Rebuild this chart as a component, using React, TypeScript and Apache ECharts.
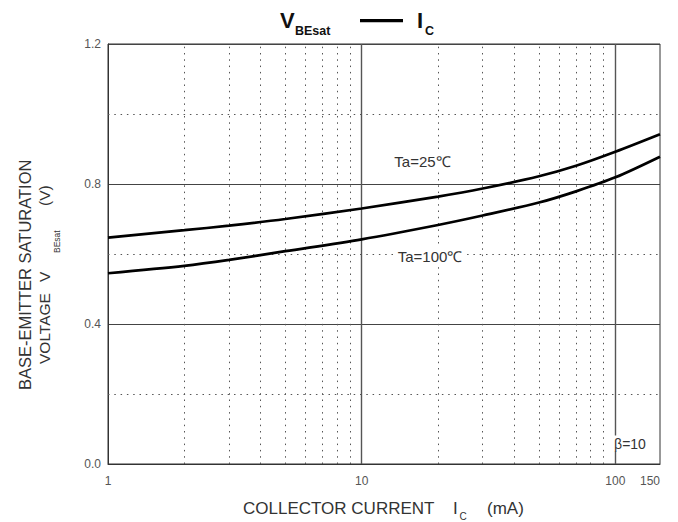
import React, { useEffect, useRef } from "react";
import * as echarts from "echarts";

const currents = [1, 2, 3, 5, 10, 20, 30, 50, 70, 100, 150];
const vbe25 = [0.647, 0.668, 0.681, 0.700, 0.730, 0.764, 0.787, 0.822, 0.852, 0.892, 0.942];
const vbe100 = [0.545, 0.566, 0.583, 0.608, 0.642, 0.683, 0.710, 0.747, 0.779, 0.819, 0.878];
const minorX = [2, 3, 4, 5, 6, 7, 8, 9, 20, 30, 40, 50, 60, 70, 80, 90];
const majorX = [10, 100];
const minorY = [0.2, 0.6, 1.0];
const yTicks = [0, 0.4, 0.8, 1.2];
const curveNames = ["Ta=25℃", "Ta=100℃"];
const betaNote = "β=10";

const FONT = "'Liberation Sans', Arial, sans-serif";

export default function App() {
  const ref = useRef<HTMLDivElement>(null);
  useEffect(() => {
    if (!ref.current) return;
    const chart = echarts.init(ref.current, null, { renderer: "svg" });
    const dotted = { color: "#555", width: 1, type: [1.5, 4.8] as any };
    const txt = (text: string, x: number, y: number, fontSize: number, extra: any = {}) => ({
      type: "text",
      x,
      y,
      z: 100,
      ...extra,
      style: {
        text,
        fontSize,
        fill: "#333",
        fontFamily: FONT,
        align: "left",
        verticalAlign: "middle",
        ...(extra.style || {}),
      },
    });
    chart.setOption({
      animation: false,
      backgroundColor: "#fff",
      textStyle: { fontFamily: FONT },
      grid: {
        left: 108,
        right: 18,
        top: 44,
        bottom: 58,
        show: true,
        borderColor: "#333",
        borderWidth: 1,
      },
      xAxis: {
        type: "log",
        logBase: 10,
        min: 1,
        max: 150,
        axisLine: { show: true, lineStyle: { color: "#333", width: 1 } },
        axisTick: { show: false },
        axisLabel: { color: "#555", fontSize: 12, fontFamily: FONT, margin: 11, alignMaxLabel: "right" },
        splitLine: { show: false },
      },
      yAxis: {
        type: "value",
        min: 0,
        max: 1.2,
        interval: 0.4,
        axisLine: { show: true, lineStyle: { color: "#333", width: 1 } },
        axisTick: { show: false },
        axisLabel: {
          color: "#555",
          fontSize: 12,
          fontFamily: FONT,
          margin: 7,
          formatter: (v: number) => (yTicks.some((t) => Math.abs(t - v) < 1e-6) ? v.toFixed(1) : ""),
        },
        splitLine: { show: true, lineStyle: { color: "#444", width: 1 } },
      },
      series: [
        {
          type: "line",
          data: currents.map((c, i) => [c, vbe25[i]]),
          smooth: 0.3,
          showSymbol: false,
          silent: true,
          lineStyle: { color: "#000", width: 2.7 },
          z: 5,
          markLine: {
            silent: true,
            symbol: "none",
            label: { show: false },
            animation: false,
            z: 1,
            data: [
              ...minorX.map((v) => ({ xAxis: v, lineStyle: dotted })),
              ...minorY.map((v) => ({ yAxis: v, lineStyle: dotted })),
              ...majorX.map((v) => ({ xAxis: v, lineStyle: { color: "#555", width: 1.4, type: "solid" } })),
            ],
          },
        },
        {
          type: "line",
          data: currents.map((c, i) => [c, vbe100[i]]),
          smooth: 0.3,
          showSymbol: false,
          silent: true,
          lineStyle: { color: "#000", width: 2.7 },
          z: 5,
        },
      ],
      graphic: [
        // title
        txt("V", 280, 20, 22, { style: { fontWeight: "bold", fill: "#111" } }),
        txt("BEsat", 295, 31, 12.5, { style: { fontWeight: "bold", fill: "#111" } }),
        {
          type: "line",
          z: 100,
          shape: { x1: 360, y1: 20.7, x2: 403, y2: 20.7 },
          style: { stroke: "#000", lineWidth: 3.3 },
        },
        txt("I", 417, 20, 22, { style: { fontWeight: "bold", fill: "#111" } }),
        txt("C", 425, 31, 12.5, { style: { fontWeight: "bold", fill: "#111" } }),
        // x axis title
        txt("COLLECTOR CURRENT", 243, 508, 17),
        txt("I", 453, 508, 17),
        txt("C", 459.5, 516, 10),
        txt("(mA)", 487, 508, 17),
        // y axis title
        txt("BASE-EMITTER SATURATION", 25, 390, 16.5, { rotation: Math.PI / 2 }),
        txt("VOLTAGE", 44.5, 364, 15.5, { rotation: Math.PI / 2 }),
        txt("V", 44.5, 282, 15.5, { rotation: Math.PI / 2 }),
        txt("BEsat", 56.5, 253, 8.5, { rotation: Math.PI / 2 }),
        txt("(V)", 44.5, 206, 15.5, { rotation: Math.PI / 2 }),
        // curve annotations
        txt(curveNames[0], 422.5, 161.5, 15, { style: { align: "center", backgroundColor: "#fff", padding: [1, 2] } }),
        txt(curveNames[1], 430, 256, 15, { style: { align: "center", backgroundColor: "#fff", padding: [1, 2] } }),
        txt(betaNote, 630, 443.5, 14, { style: { align: "center", backgroundColor: "#fff", padding: [1, 1] } }),
      ],
    });
    return () => chart.dispose();
  }, []);
  return (
    <div
      ref={ref}
      style={{ position: "fixed", left: 0, top: 0, width: 678, height: 522 }}
    />
  );
}
